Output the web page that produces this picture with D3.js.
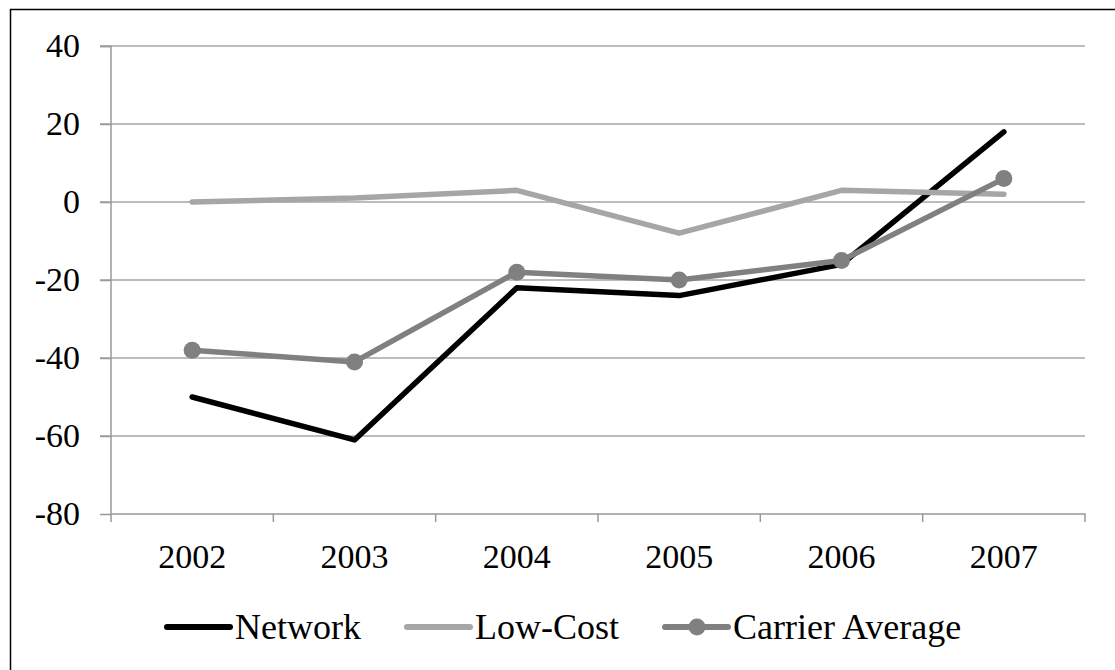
<!DOCTYPE html>
<html><head><meta charset="utf-8">
<script src="https://cdn.jsdelivr.net/npm/d3@7"></script>
<style>body{margin:0;background:#fff}svg{display:block}text{font-family:"Liberation Serif","Times New Roman",serif;fill:#000}</style>
</head><body>
<svg id="c" width="1115" height="670"></svg>
<script>
const categories = ["2002","2003","2004","2005","2006","2007"];
const network = [-50,-61,-22,-24,-16,18];
const lowCost = [0,1,3,-8,3,2];
const carrierAvg = [-38,-41,-18,-20,-15,6];
const yTicks = [40,20,0,-20,-40,-60,-80];
const seriesNames = ["Network","Low-Cost","Carrier Average"];

const svg = d3.select("#c");
svg.append("path").attr("d","M10.5,670 V9.5 H1115").attr("fill","none").attr("stroke","#000").attr("stroke-width",1.5);

const x = d3.scaleBand().domain(categories).range([111,1085]);
const y = d3.scaleLinear().domain([-80,40]).range([514,46]);

// grid
svg.append("g").selectAll("line").data(yTicks.filter(d=>d!==-80)).join("line")
  .attr("x1",100).attr("x2",1085).attr("y1",d=>y(d)).attr("y2",d=>y(d))
  .attr("stroke","#a6a6a6").attr("stroke-width",1.5);

const ya = svg.append("g").attr("transform","translate(111,0)")
  .call(d3.axisLeft(y).tickValues(yTicks).tickSize(11).tickPadding(20).tickFormat(d=>String(d)));
ya.select(".domain").attr("stroke","#999").attr("stroke-width",1.5).attr("d","M-11,46.5H0V514");
ya.selectAll(".tick line").attr("stroke","#999").attr("stroke-width",1.5);
ya.selectAll("text").attr("font-size",34).attr("font-family","Liberation Serif").attr("fill","#000");

const xa = svg.append("g").attr("transform","translate(0,514)")
  .call(d3.axisBottom(x).tickSize(0).tickPadding(30));
xa.select(".domain").attr("stroke","#999").attr("stroke-width",1.5).attr("d","M111,0H1085V8");
xa.selectAll(".tick line").remove();
xa.selectAll("text").attr("font-size",34).attr("font-family","Liberation Serif").attr("fill","#000");
// category boundary ticks
svg.append("g").selectAll("line").data(categories).join("line")
  .attr("x1",d=>x(d)).attr("x2",d=>x(d)).attr("y1",514).attr("y2",522)
  .attr("stroke","#999").attr("stroke-width",1.5);

const cx = d => x(d)+x.bandwidth()/2;
const line = d3.line().x((d,i)=>cx(categories[i])).y(d=>y(d));
const cfg = [
  {data:network,color:"#000000",marker:false},
  {data:lowCost,color:"#a6a6a6",marker:false},
  {data:carrierAvg,color:"#808080",marker:true}
];
cfg.forEach(s=>{
  svg.append("path").datum(s.data).attr("d",line).attr("fill","none")
    .attr("stroke",s.color).attr("stroke-width",5.5).attr("stroke-linecap","round").attr("stroke-linejoin","round");
  if(s.marker){
    svg.append("g").selectAll("circle").data(s.data).join("circle")
      .attr("cx",(d,i)=>cx(categories[i])).attr("cy",d=>y(d)).attr("r",8.5).attr("fill",s.color);
  }
});

// legend
const legX = [167,407,665];
const lg = svg.append("g");
seriesNames.forEach((n,i)=>{
  const g = lg.append("g").attr("transform",`translate(${legX[i]},627)`);
  g.append("line").attr("x1",0).attr("x2",63).attr("y1",0).attr("y2",0)
    .attr("stroke",cfg[i].color).attr("stroke-width",6).attr("stroke-linecap","round");
  if(cfg[i].marker) g.append("circle").attr("cx",32).attr("cy",0).attr("r",8.5).attr("fill",cfg[i].color);
  g.append("text").attr("x",68).attr("y",12).attr("font-size",36).text(n);
});
</script>
</body></html>
